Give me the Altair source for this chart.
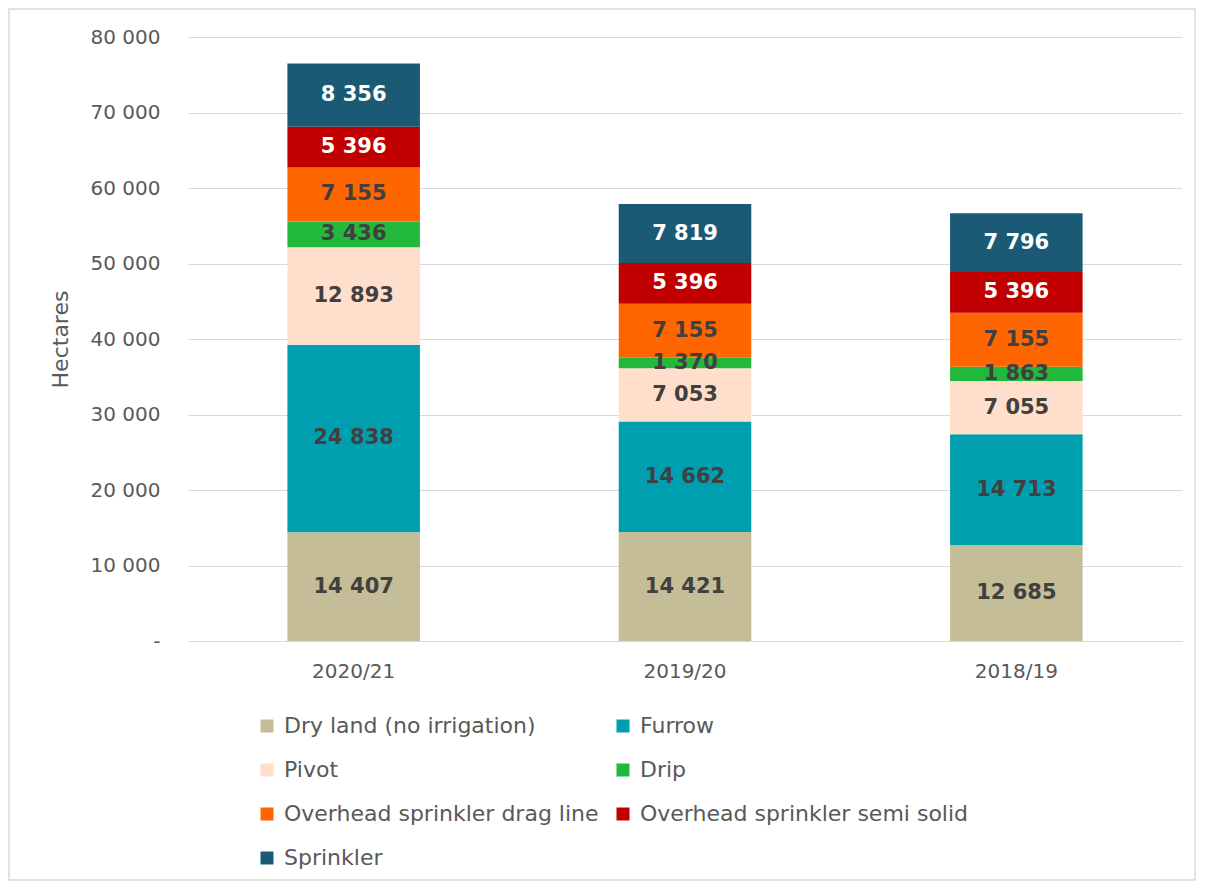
import altair as alt
import pandas as pd

years = ["2020/21", "2019/20", "2018/19"]
series = [
    "Dry land (no irrigation)",
    "Furrow",
    "Pivot",
    "Drip",
    "Overhead sprinkler drag line",
    "Overhead sprinkler semi solid",
    "Sprinkler",
]
colors = ["#C4BD97", "#009FB0", "#FFDFCB", "#22B83C", "#FF6600", "#C00000", "#1B5A75"]

dry_land = [14407, 14421, 12685]
furrow = [24838, 14662, 14713]
pivot = [12893, 7053, 7055]
drip = [3436, 1370, 1863]
drag_line = [7155, 7155, 7155]
semi_solid = [5396, 5396, 5396]
sprinkler = [8356, 7819, 7796]

values = [dry_land, furrow, pivot, drip, drag_line, semi_solid, sprinkler]

rows = []
for si, (s, vals) in enumerate(zip(series, values)):
    for y, v in zip(years, vals):
        rows.append({"year": y, "series": s, "order": si, "value": v,
                     "label": f"{v:,}".replace(",", " ")})
df = pd.DataFrame(rows)

FONT = "DejaVu Sans"
GRAY = "#595959"

base = alt.Chart(df).transform_stack(
    stack="value", groupby=["year"], sort=[{"field": "order"}], as_=["y0", "y1"]
).transform_calculate(mid="(datum.y0 + datum.y1) / 2")

xenc = alt.X("year:N", sort=years, title=None,
             scale=alt.Scale(paddingInner=0.6, paddingOuter=0.3),
             axis=alt.Axis(labelAngle=0, labelFontSize=20, labelColor=GRAY, labelFont=FONT,
                           labelPadding=20, ticks=False, domainColor="#D9D9D9", domainWidth=1))

bars = base.mark_bar().encode(
    x=xenc,
    y=alt.Y("y0:Q", title="Hectares",
            scale=alt.Scale(domain=[0, 80000], nice=False),
            axis=alt.Axis(values=list(range(0, 80001, 10000)),
                          labelExpr="datum.value == 0 ? '-' : replace(format(datum.value, ','), ',', ' ')",
                          labelFontSize=20, labelColor=GRAY, labelFont=FONT, labelPadding=28,
                          ticks=False, domain=False, gridColor="#D9D9D9", gridWidth=1.2,
                          titleFontSize=22, titleFont=FONT, titleColor=GRAY, titleFontWeight="normal",
                          titlePadding=18)),
    y2="y1:Q",
    color=alt.Color("series:N", sort=series,
                    scale=alt.Scale(domain=series, range=colors),
                    legend=alt.Legend(title=None, orient="none", legendX=68, legendY=678,
                                      columns=2, direction="horizontal",
                                      symbolType="square", symbolSize=169,
                                      symbolStrokeWidth=0, labelFontSize=22, labelFont=FONT,
                                      labelColor=GRAY, rowPadding=22, columnPadding=13,
                                      labelOffset=6, labelLimit=600)),
    order=alt.Order("order:Q"),
)

texts = base.mark_text(fontSize=21, fontWeight="bold", font=FONT).encode(
    x=alt.X("year:N", sort=years),
    y=alt.Y("mid:Q"),
    text="label:N",
    color=alt.condition(
        "datum.series == 'Sprinkler' || datum.series == 'Overhead sprinkler semi solid'",
        alt.value("white"), alt.value("#404040")),
)

frame = alt.Chart(pd.DataFrame({"a": [0]})).mark_rect(
    fill=None, stroke="#D9D9D9", strokeWidth=1.5
).encode(x=alt.value(-179), x2=alt.value(1007), y=alt.value(-28), y2=alt.value(843))

chart = alt.layer(frame, bars, texts).properties(
    width=994, height=604,
    autosize=alt.AutoSizeParams(type="none"),
    padding={"left": 180, "top": 29, "right": 15, "bottom": 240},
).configure_view(stroke=None)

chart.save("out.html", embed_options={"renderer": "svg", "actions": False})
